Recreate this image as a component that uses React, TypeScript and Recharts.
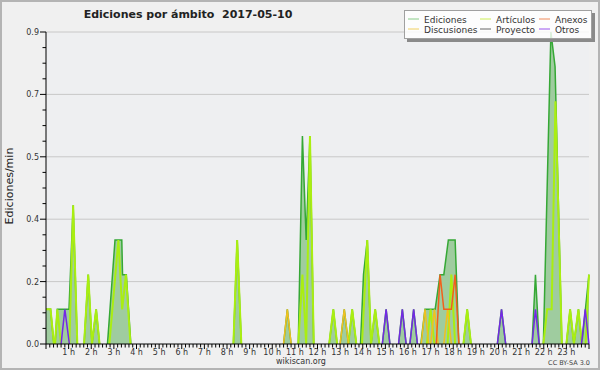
import React from 'react';
import { ComposedChart, Area, Line, XAxis, YAxis, CartesianGrid } from 'recharts';

// minutes since midnight, edits per minute; each inner list is one unbroken stretch
const ediciones = [
  [[0, 0.1], [12, 0.1], [21, 0]],
  [[24, 0], [30, 0.1], [61, 0.1], [72, 0.4], [83, 0]],
  [[101, 0], [112, 0.2], [122, 0], [133, 0.1], [142, 0]],
  [[163, 0], [183, 0.3], [201, 0.3], [203, 0.2], [213, 0.2], [225, 0]],
  [[497, 0], [507, 0.3], [518, 0]],
  [[630, 0], [640, 0.1], [650, 0]],
  [[669, 0], [680, 0.6], [690, 0.3], [700, 0.6], [710, 0]],
  [[751, 0], [762, 0.1], [772, 0]],
  [[780, 0], [791, 0.1], [802, 0], [812, 0.1], [823, 0]],
  [[834, 0], [842, 0.2], [852, 0.3], [862, 0], [873, 0.1], [884, 0]],
  [[892, 0], [902, 0.1], [912, 0]],
  [[935, 0], [945, 0.1], [955, 0]],
  [[965, 0], [975, 0.1], [985, 0]],
  [[994, 0], [1005, 0.1], [1032, 0.1], [1045, 0.2], [1055, 0.2], [1067, 0.3], [1085, 0.3], [1095, 0]],
  [[1107, 0], [1117, 0.1], [1127, 0]],
  [[1197, 0], [1208, 0.1], [1219, 0]],
  [[1289, 0], [1298, 0.2], [1308, 0]],
  [[1319, 0], [1339, 0.9], [1350, 0.8], [1368, 0]],
  [[1380, 0], [1390, 0.1], [1400, 0], [1412, 0.1], [1421, 0], [1440, 0.2]],
];

const articulos = [
  [[0, 0.1], [12, 0.1], [21, 0]],
  [[24, 0], [30, 0.1], [40, 0]],
  [[62, 0], [72, 0.4], [83, 0]],
  [[101, 0], [112, 0.2], [122, 0], [133, 0.1], [142, 0]],
  [[168, 0], [192, 0.3], [202, 0.1], [212, 0.2], [224, 0]],
  [[497, 0], [507, 0.3], [518, 0]],
  [[669, 0], [680, 0.2], [690, 0], [700, 0.6], [710, 0]],
  [[751, 0], [762, 0.1], [772, 0]],
  [[802, 0], [812, 0.1], [823, 0]],
  [[838, 0], [852, 0.3], [862, 0], [873, 0.1], [884, 0]],
  [[1010, 0], [1020, 0.1], [1030, 0]],
  [[1065, 0], [1075, 0.2], [1085, 0]],
  [[1107, 0], [1117, 0.1], [1127, 0]],
  [[1319, 0], [1329, 0.1], [1341, 0.1], [1351, 0.7], [1368, 0]],
  [[1380, 0], [1390, 0.1], [1400, 0], [1412, 0.1], [1421, 0]],
  [[1431, 0], [1440, 0.2]],
];

const discusiones = [
  [[630, 0], [640, 0.1], [650, 0]],
  [[780, 0], [791, 0.1], [802, 0]],
  [[995, 0], [1005, 0.1], [1015, 0]],
  [[1020, 0], [1030, 0.1], [1040, 0]],
  [[1055, 0], [1065, 0.1], [1075, 0]],
];

const anexos = [
  [[1035, 0], [1045, 0.2], [1055, 0.1], [1075, 0.1], [1085, 0.2], [1095, 0]],
];

const proyecto: number[][][] = [];

const otros = [
  [[40, 0], [50, 0.1], [62, 0]],
  [[892, 0], [902, 0.1], [912, 0]],
  [[935, 0], [945, 0.1], [955, 0]],
  [[965, 0], [975, 0.1], [985, 0]],
  [[1197, 0], [1208, 0.1], [1219, 0]],
  [[1289, 0], [1298, 0.1], [1308, 0]],
  [[1420, 0], [1430, 0.1], [1440, 0]],
];

const X_TICKS = Array.from({ length: 145 }, (_, i) => i * 10);
const Y_TICKS = Array.from({ length: 21 }, (_, i) => i * 0.045);
const GRID_VALUES = [0.18, 0.36, 0.54, 0.72, 0.9];

const C = {
  ediciones: '#35a835',
  edicionesFill: '#9fcc9f',
  articulos: '#aaee11',
  anexos: '#f2601c',
  discusiones: '#f0c020',
  proyecto: '#555555',
  otros: '#7428e6',
};

const legendItems = [
  { name: 'Ediciones', color: '#88cc88', col: 0, row: 0 },
  { name: 'Artículos', color: '#ccee55', col: 1, row: 0 },
  { name: 'Anexos', color: '#f08a5a', col: 2, row: 0 },
  { name: 'Discusiones', color: '#f0d060', col: 0, row: 1 },
  { name: 'Proyecto', color: '#666666', col: 1, row: 1 },
  { name: 'Otros', color: '#9a55ee', col: 2, row: 1 },
];
const LEGEND_COLS = [408, 480, 539];

const toRows = (segs: number[][][]) =>
  segs.flatMap((seg, i) => [
    ...(i ? [{ m: seg[0][0], v: null as number | null }] : []),
    ...seg.map(([m, v]) => ({ m, v: v as number | null })),
  ]);

const FONT = 'DejaVu Sans, sans-serif';

const XTick = (props: any) => {
  const { x, y, payload } = props;
  const hour = payload.value % 60 === 0;
  const h = payload.value / 60;
  return (
    <g>
      <line x1={x} x2={x} y1={y} y2={y + (hour ? 5 : 3.5)} stroke="#000" />
      {hour && h > 0 && h < 24 && (
        <text x={x} y={y + 11} textAnchor="middle" fontSize={8} fill="#333" fontFamily={FONT}>
          {`${h} h`}
        </text>
      )}
    </g>
  );
};

const YTick = (props: any) => {
  const { x, y, payload } = props;
  const major = Math.round(payload.value / 0.045) % 4 === 0;
  return (
    <g>
      <line x1={x - (major ? 6 : 3.5)} x2={x} y1={y} y2={y} stroke="#000" />
      {major && (
        <text x={x - 7} y={y + 3} textAnchor="end" fontSize={8} fill="#333" fontFamily={FONT}>
          {payload.value.toFixed(1)}
        </text>
      )}
    </g>
  );
};

export default function App() {
  return (
    <div
      style={{
        position: 'absolute',
        left: 0,
        top: 0,
        width: 600,
        height: 370,
        background: '#f0f0f0',
        boxShadow: 'inset 0 0 0 2px #b4b4b4',
      }}
    >
      <ComposedChart width={600} height={370} margin={{ top: 32, right: 11, left: 0, bottom: 0 }}>
        <CartesianGrid
          vertical={false}
          horizontalValues={GRID_VALUES}
          stroke="#c8c8c8"
          fill="#eeeff1"
        />
        <XAxis
          dataKey="m"
          type="number"
          domain={[0, 1440]}
          ticks={X_TICKS}
          interval={0}
          height={26}
          tickSize={0}
          tickMargin={0}
          tickLine={false}
          tick={<XTick />}
          axisLine={{ stroke: '#000' }}
          allowDuplicatedCategory={false}
        />
        <YAxis
          type="number"
          domain={[0, 0.9]}
          ticks={Y_TICKS}
          interval={0}
          width={46}
          tickSize={0}
          tickMargin={0}
          tickLine={false}
          tick={<YTick />}
          axisLine={{ stroke: '#000' }}
        />
        <Area
          data={toRows(ediciones)}
          dataKey="v"
          type="linear"
          stroke={C.ediciones}
          strokeWidth={1.5}
          fill={C.edicionesFill}
          fillOpacity={1}
          isAnimationActive={false}
        />
        <Line data={toRows(articulos)} dataKey="v" type="linear" stroke={C.articulos} strokeWidth={2} dot={false} isAnimationActive={false} />
        <Line data={toRows(discusiones)} dataKey="v" type="linear" stroke={C.discusiones} strokeWidth={1.5} dot={false} isAnimationActive={false} />
        <Line data={toRows(anexos)} dataKey="v" type="linear" stroke={C.anexos} strokeWidth={1.5} dot={false} isAnimationActive={false} />
        <Line data={toRows(proyecto)} dataKey="v" type="linear" stroke={C.proyecto} strokeWidth={1.5} dot={false} isAnimationActive={false} />
        <Line data={toRows(otros)} dataKey="v" type="linear" stroke={C.otros} strokeWidth={1.5} dot={false} isAnimationActive={false} />
      </ComposedChart>
      <svg
        width={600}
        height={370}
        style={{ position: 'absolute', left: 0, top: 0, pointerEvents: 'none' }}
        fontFamily={FONT}
      >
        <text x={188} y={18} textAnchor="middle" fontSize={11} fontWeight="bold" fill="#222" style={{ whiteSpace: 'pre' }}>
          {'Ediciones por ámbito  2017-05-10'}
        </text>
        <text transform="translate(13,186) rotate(-90)" textAnchor="middle" fontSize={11} fill="#222">
          Ediciones/min
        </text>
        <text x={301} y={364} textAnchor="middle" fontSize={8} fill="#333">
          wikiscan.org
        </text>
        <text x={590} y={365} textAnchor="end" fontSize={6.5} fill="#444">
          CC BY-SA 3.0
        </text>
        <rect x={592} y={13} width={3} height={29} fill="#8a8a8a" />
        <rect x={407} y={39} width={188} height={3} fill="#8a8a8a" />
        <rect x={404.5} y={10.5} width={187} height={28} fill="rgba(255,255,255,0.82)" stroke="#a0a0a0" />
        {legendItems.map((it) => {
          const lx = LEGEND_COLS[it.col];
          const ly = 19 + it.row * 10;
          return (
            <g key={it.name}>
              <line x1={lx} x2={lx + 11} y1={ly} y2={ly} stroke={it.color} strokeWidth={1} />
              <text x={lx + 16} y={ly + 4} fontSize={9} fill="#333">
                {it.name}
              </text>
            </g>
          );
        })}
      </svg>
    </div>
  );
}
